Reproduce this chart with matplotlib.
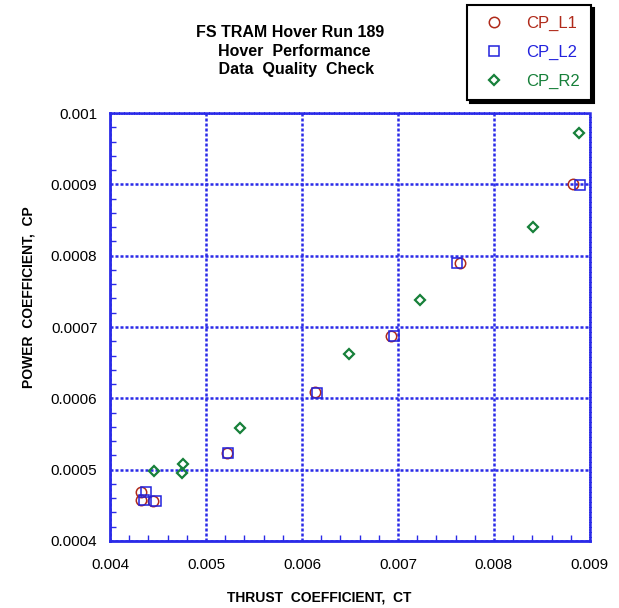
import numpy as np
import matplotlib
matplotlib.use('Agg')
import matplotlib.pyplot as plt
from matplotlib.ticker import MultipleLocator

plt.rcParams['font.family'] = ['Liberation Sans', 'DejaVu Sans']

# hover run 189 data
ct_l1 = [0.004326, 0.004326, 0.004447, 0.005223, 0.006135, 0.006925, 0.007648, 0.008820]
cp_l1 = [0.0004691, 0.0004575, 0.0004561, 0.000523, 0.0006086, 0.0006875, 0.0007895, 0.0009003]

ct_l2 = [0.004371, 0.004353, 0.004482, 0.005234, 0.006159, 0.006962, 0.007614, 0.008894]
cp_l2 = [0.0004691, 0.0004575, 0.0004561, 0.000523, 0.000607, 0.0006875, 0.0007895, 0.000899]

ct_r2 = [0.004454, 0.004760, 0.004746, 0.005352, 0.006493, 0.007231, 0.008407, 0.008883]
cp_r2 = [0.0004986, 0.000508, 0.000495, 0.000558, 0.000662, 0.0007376, 0.00084, 0.000972]

RED = '#b02a1a'
BLUE = '#2222dd'
GREEN = '#17803a'
GRID_BLUE = '#2a2ae8'

fig = plt.figure(figsize=(6.19, 6.08), dpi=100, facecolor='white')
ax = fig.add_axes([0.1777, 0.1102, 0.7753, 0.7039])

ax.plot(ct_l1, cp_l1, 'o', ms=7.5, mfc='none', mec=RED, mew=1.1, label='CP_L1')
ax.plot(ct_l2, cp_l2, 's', ms=7, mfc='none', mec=BLUE, mew=1.1, label='CP_L2')
ax.plot(ct_r2, cp_r2, 'D', ms=5.5, mfc='none', mec=GREEN, mew=1.6, label='CP_R2')

ax.set_xlim(0.004, 0.009)
ax.set_ylim(0.0004, 0.001)
ax.xaxis.set_major_locator(MultipleLocator(0.001))
ax.xaxis.set_minor_locator(MultipleLocator(0.0002))
ax.yaxis.set_major_locator(MultipleLocator(0.0001))
ax.yaxis.set_minor_locator(MultipleLocator(0.00002))
ax.xaxis.set_major_formatter(plt.FuncFormatter(lambda v, p: f'{v:.3f}'.rstrip('0')))
ax.yaxis.set_major_formatter(plt.FuncFormatter(lambda v, p: f'{v:.4f}'.rstrip('0')))

ax.tick_params(which='major', length=0, labelsize=11, pad=9, colors='black')
ax.tick_params(which='minor', direction='in', length=4, width=1, color=GRID_BLUE)
ax.tick_params(axis='x', which='major', pad=12)

ax.grid(True, which='major', color=GRID_BLUE, linestyle=(0, (1.2, 0.8)), linewidth=1.8)
for side in ('left', 'bottom'):
    ax.spines[side].set_color(GRID_BLUE)
    ax.spines[side].set_linewidth(2)
for side in ('top', 'right'):
    ax.spines[side].set_color(GRID_BLUE)
    ax.spines[side].set_linewidth(1.8)
    ax.spines[side].set_linestyle((0, (1.2, 0.8)))

ax.set_xlabel('THRUST  COEFFICIENT,  CT', fontsize=10, fontweight='bold')
ax.set_ylabel('POWER  COEFFICIENT,  CP', fontsize=10, fontweight='bold')
ax.xaxis.set_label_coords(0.435, -0.115)
ax.yaxis.set_label_coords(-0.155, 0.57)

fig.text(0.468, 0.916, 'FS TRAM Hover Run 189\n  Hover  Performance\n   Data  Quality  Check',
         ha='center', va='center', fontsize=11.5, fontweight='bold', linespacing=1.3)

leg = fig.legend(loc='upper right', bbox_to_anchor=(0.955, 0.992),
                 prop={'family': 'Liberation Sans', 'size': 12},
                 frameon=True, fancybox=False, edgecolor='black',
                 shadow={'color': 'black', 'alpha': 1}, labelcolor='markeredgecolor',
                 handlelength=1.9, handletextpad=1.0, labelspacing=0.85,
                 borderpad=0.65, borderaxespad=0)
leg.get_frame().set_linewidth(1.5)

plt.savefig('out.png', dpi=100, facecolor='white')
